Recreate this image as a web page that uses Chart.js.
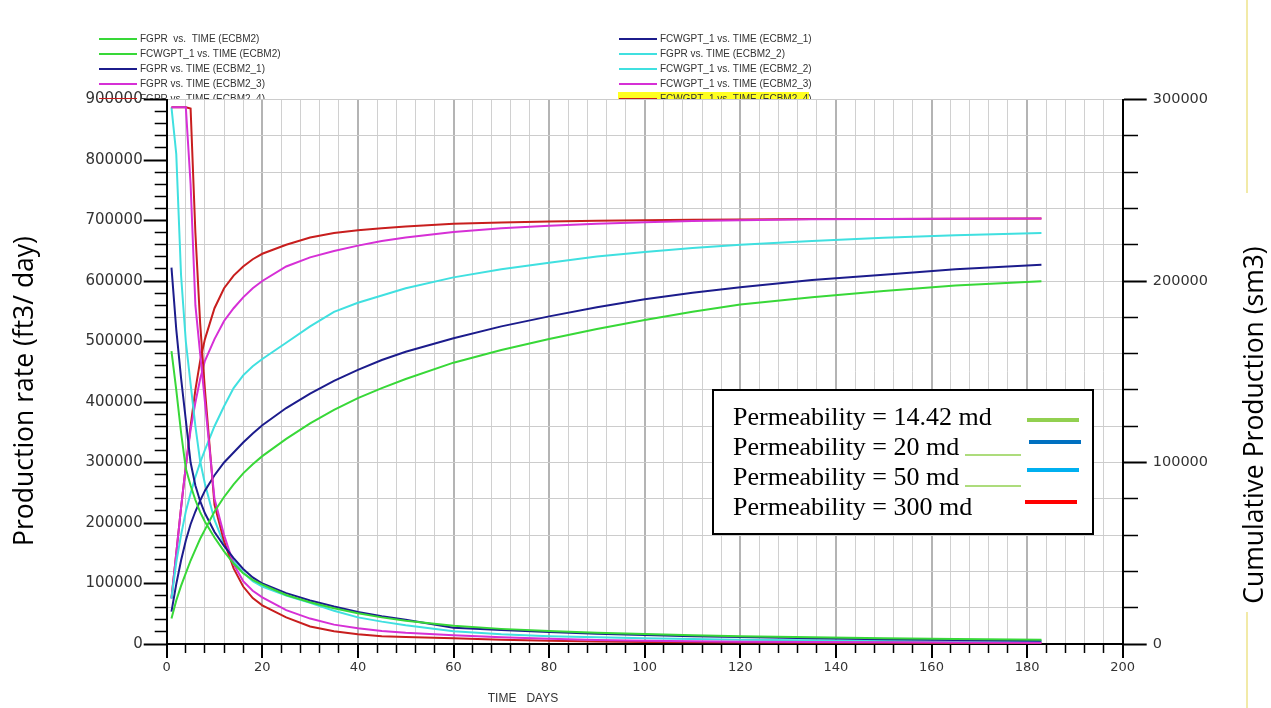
<!DOCTYPE html>
<html>
<head>
<meta charset="utf-8">
<style>
  html, body { margin: 0; padding: 0; background: #fff; }
  #wrap { position: relative; width: 1271px; height: 708px; }
</style>
<script src="https://cdn.jsdelivr.net/npm/chart.js@4.4.1/dist/chart.umd.min.js"></script>
</head>
<body>
<div id="wrap"><canvas id="chart"></canvas></div>
<script>
// report days shared by all runs
const days = [1, 2, 3, 4, 5, 6, 7, 8, 10, 12, 14, 16, 18, 20, 25, 30, 35, 40, 45, 50, 60, 70, 80, 90, 100, 110, 120, 135, 150, 165, 183];

// gas rate FGPR (ft3/day), left axis
const rateEcbm2  = [484000, 420000, 350000, 290000, 262000, 238000, 218000, 202000, 176000, 153000, 133000, 117000, 106000, 98000, 81000, 69000, 59000, 51000, 44000, 38500, 30000, 25000, 21500, 18500, 16500, 14500, 13000, 11000, 9500, 8200, 7000];
const rateEcbm21 = [622000, 520000, 440000, 370000, 300000, 262000, 236000, 216000, 185000, 162000, 142000, 124000, 110000, 100000, 84000, 72000, 62000, 53000, 46000, 40000, 27000, 23000, 20000, 17000, 15000, 13000, 11500, 9500, 8000, 6700, 5500];
const rateEcbm22 = [887000, 810000, 610000, 500000, 430000, 360000, 302000, 265000, 205000, 165000, 137000, 118000, 104000, 95000, 80000, 68000, 55000, 44000, 37000, 31000, 21000, 16000, 13000, 11000, 9400, 8200, 7200, 6000, 5000, 4300, 3800];
const rateEcbm23 = [887000, 887000, 887000, 887000, 760000, 560000, 480000, 400000, 240000, 180000, 132000, 104000, 88000, 77000, 56000, 42000, 32000, 26000, 21500, 18500, 14500, 11000, 8800, 6800, 5200, 4400, 3800, 3100, 2700, 2400, 2100];
const rateEcbm24 = [887000, 887000, 887000, 887000, 885000, 680000, 530000, 420000, 230000, 170000, 125000, 95000, 76000, 64000, 44000, 29000, 21000, 16000, 13000, 11500, 9500, 7000, 5200, 4200, 3400, 2900, 2600, 2100, 1900, 1700, 1500];

// cumulative FCWGPT_1 (sm3), right axis
const cumEcbm2  = [14000, 24000, 32000, 39000, 46000, 52000, 58000, 63000, 73000, 81000, 88000, 94000, 99000, 103500, 113000, 121500, 129000, 135500, 141000, 146000, 155000, 162000, 168000, 173500, 178500, 183000, 187000, 191000, 194500, 197500, 199800];
const cumEcbm21 = [17800, 33000, 46000, 57000, 66000, 73000, 79000, 84500, 93000, 100000, 105500, 111000, 116000, 120500, 130000, 138000, 145000, 151000, 156500, 161000, 168500, 175000, 180500, 185500, 190000, 193500, 196500, 200500, 203500, 206500, 209000];
const cumEcbm22 = [25000, 45000, 60000, 73000, 83000, 92000, 100000, 107000, 120000, 131000, 141000, 148000, 153000, 157000, 166000, 175000, 183000, 188000, 192000, 196000, 202000, 206500, 210000, 213500, 216000, 218200, 220000, 222000, 223800, 225200, 226500];
const cumEcbm23 = [25000, 50000, 75000, 98000, 118000, 133000, 146000, 156000, 168000, 178000, 185000, 191000, 196000, 200000, 208000, 213000, 216500, 219500, 222000, 224000, 227000, 229000, 230500, 231600, 232400, 233000, 233500, 234000, 234200, 234300, 234400];
const cumEcbm24 = [25400, 50000, 75000, 98000, 120000, 140000, 156000, 168000, 185000, 196000, 203000, 208000, 212000, 215000, 220000, 224000, 226500, 228000, 229000, 230000, 231500, 232300, 232800, 233200, 233500, 233700, 233900, 234100, 234200, 234300, 234400];

// boxed legend
const permLabels = ['Permeability = 14.42 md', 'Permeability = 20 md', 'Permeability = 50 md', 'Permeability = 300 md'];
const permColors = ['#92d050', '#0070c0', '#00b0f0', '#ff0000'];

const GREEN = '#38d838', NAVY = '#1c1c8c', CYAN = '#40e0e0', MAGENTA = '#d630d6', RED = '#c81e1e';

function pts(vals) { return days.map((d, i) => ({ x: d, y: vals[i] })); }
function line(label, vals, color, axis) {
    return { label, data: pts(vals), borderColor: color, backgroundColor: color, yAxisID: axis,
             borderWidth: 2, pointRadius: 0, tension: 0, fill: false };
}

// legend order: first five in left column, next five in right column
const datasets = [
    line('FGPR  vs.  TIME (ECBM2)', rateEcbm2, GREEN, 'y'),
    line('FCWGPT_1 vs. TIME (ECBM2)', cumEcbm2, GREEN, 'y1'),
    line('FGPR vs. TIME (ECBM2_1)', rateEcbm21, NAVY, 'y'),
    line('FGPR vs. TIME (ECBM2_3)', rateEcbm23, MAGENTA, 'y'),
    line('FGPR vs. TIME (ECBM2_4)', rateEcbm24, RED, 'y'),
    line('FCWGPT_1 vs. TIME (ECBM2_1)', cumEcbm21, NAVY, 'y1'),
    line('FGPR vs. TIME (ECBM2_2)', rateEcbm22, CYAN, 'y'),
    line('FCWGPT_1 vs. TIME (ECBM2_2)', cumEcbm22, CYAN, 'y1'),
    line('FCWGPT_1 vs. TIME (ECBM2_3)', cumEcbm23, MAGENTA, 'y1'),
    line('FCWGPT_1 vs. TIME (ECBM2_4)', cumEcbm24, RED, 'y1')
];

const overlay = {
    id: 'overlay',
    afterDraw(chart) {
        const ctx = chart.ctx;
        const area = chart.chartArea;
        ctx.save();

        // slide border remnants at the right edge
        ctx.strokeStyle = '#f2eaa8';
        ctx.lineWidth = 2;
        ctx.beginPath();
        ctx.moveTo(1247, 0); ctx.lineTo(1247, 193);
        ctx.moveTo(1247, 612); ctx.lineTo(1247, 708);
        ctx.stroke();

        // top legend, clipped by the plot frame
        ctx.save();
        ctx.beginPath();
        ctx.rect(0, 0, chart.width, area.top - 0.5);
        ctx.clip();
        ctx.font = '10px "Liberation Sans"';
        ctx.textBaseline = 'middle';
        chart.data.datasets.forEach((ds, i) => {
            const col = Math.floor(i / 5), row = i % 5;
            const x0 = col === 0 ? 99 : 619;
            const y = 39 + row * 15;
            if (i === 9) {
                ctx.fillStyle = '#ffff20';
                ctx.fillRect(x0 - 1, y - 7, 191, 15);
            }
            ctx.strokeStyle = ds.borderColor;
            ctx.lineWidth = 2;
            ctx.beginPath();
            ctx.moveTo(x0, y);
            ctx.lineTo(x0 + 38, y);
            ctx.stroke();
            ctx.fillStyle = '#333';
            ctx.fillText(ds.label, x0 + 41, y);
        });
        ctx.restore();

        // axis titles
        ctx.fillStyle = '#000';
        ctx.font = '26.5px "Open Sans"';
        ctx.textAlign = 'center';
        ctx.textBaseline = 'middle';
        ctx.save();
        ctx.translate(25, 391);
        ctx.rotate(-Math.PI / 2);
        ctx.fillText('Production rate (ft3/ day)', 0, 0);
        ctx.restore();
        ctx.save();
        ctx.translate(1255, 425);
        ctx.rotate(-Math.PI / 2);
        ctx.fillText('Cumulative Production (sm3)', 0, 0);
        ctx.restore();
        ctx.font = '12px "Liberation Sans"';
        ctx.fillStyle = '#333';
        ctx.fillText('TIME   DAYS', 523, 699);

        // permeability box
        ctx.fillStyle = '#fff';
        ctx.fillRect(713, 390, 380, 144);
        ctx.strokeStyle = '#000';
        ctx.lineWidth = 2;
        ctx.strokeRect(713, 390, 380, 144);
        ctx.font = '26px "Liberation Serif"';
        ctx.textAlign = 'left';
        ctx.fillStyle = '#000';
        const rowY = [418, 448, 478, 508];
        const swX = [1027, 1029, 1027, 1025];
        const swY = [420, 442, 470, 502];
        permLabels.forEach((t, i) => {
            ctx.fillText(t, 733, rowY[i]);
            ctx.strokeStyle = permColors[i];
            ctx.lineWidth = 4;
            ctx.beginPath();
            ctx.moveTo(swX[i], swY[i]);
            ctx.lineTo(swX[i] + 52, swY[i]);
            ctx.stroke();
        });
        ctx.strokeStyle = '#92d050';
        ctx.lineWidth = 1.5;
        [455, 486].forEach(y => {
            ctx.beginPath();
            ctx.moveTo(965, y);
            ctx.lineTo(1021, y);
            ctx.stroke();
        });
        ctx.restore();
    }
};

new Chart(document.getElementById('chart'), {
    type: 'line',
    data: { datasets },
    plugins: [overlay],
    options: {
        responsive: true,
        maintainAspectRatio: false,
        animation: false,
        layout: { padding: { top: 99.5, left: 0, right: 0, bottom: 0 } },
        plugins: { legend: { display: false }, tooltip: { enabled: false } },
        scales: {
            x: {
                type: 'linear', min: 0, max: 200,
                afterFit: s => { s.height = 64; },
                border: { color: '#000', width: 2 },
                grid: {
                    color: ctx => ctx.tick && ctx.tick.value % 20 === 0 ? '#b4b4b4' : '#d0d0d0',
                    lineWidth: ctx => ctx.tick && ctx.tick.value % 20 === 0 ? 2 : 1,
                    tickColor: '#000',
                    tickLength: 14,
                    tickWidth: ctx => ctx.tick && ctx.tick.value % 20 === 0 ? 2 : 1.5,
                    tickBorderDash: ctx => ctx.tick && ctx.tick.value % 20 === 0 ? [] : [8, 40]
                },
                ticks: {
                    stepSize: 4, autoSkip: false, maxRotation: 0, padding: 2,
                    color: '#333', font: { family: 'DejaVu Sans', size: 13 },
                    callback: v => v % 20 === 0 ? String(v) : ''
                }
            },
            y: {
                position: 'left', min: 0, max: 900000,
                afterFit: s => { s.width = 166.7; },
                border: { color: '#000', width: 2 },
                grid: {
                    drawOnChartArea: false,
                    tickColor: '#000',
                    tickLength: 23,
                    tickWidth: ctx => ctx.tick && ctx.tick.value % 100000 === 0 ? 2 : 1.5,
                    tickBorderDash: ctx => ctx.tick && ctx.tick.value % 100000 === 0 ? [] : [0, 11, 40]
                },
                ticks: {
                    stepSize: 20000, autoSkip: false, padding: 1,
                    color: '#333', font: { family: 'DejaVu Sans', size: 15 },
                    callback: v => v % 100000 === 0 ? String(v) : ''
                }
            },
            y1: {
                position: 'right', min: 0, max: 300000,
                afterFit: s => { s.width = 148.3; },
                border: { color: '#000', width: 2 },
                grid: {
                    color: '#cccccc',
                    lineWidth: 1,
                    tickColor: '#000',
                    tickLength: 24,
                    tickWidth: ctx => ctx.tick && ctx.tick.value % 100000 === 0 ? 2 : 1.5,
                    tickBorderDash: ctx => ctx.tick && ctx.tick.value % 100000 === 0 ? [] : [14, 40]
                },
                ticks: {
                    stepSize: 20000, autoSkip: false, padding: 6,
                    color: '#333', font: { family: 'DejaVu Sans', size: 14.5 },
                    callback: v => v % 100000 === 0 ? String(v) : ''
                }
            }
        }
    }
});
</script>
</body>
</html>
